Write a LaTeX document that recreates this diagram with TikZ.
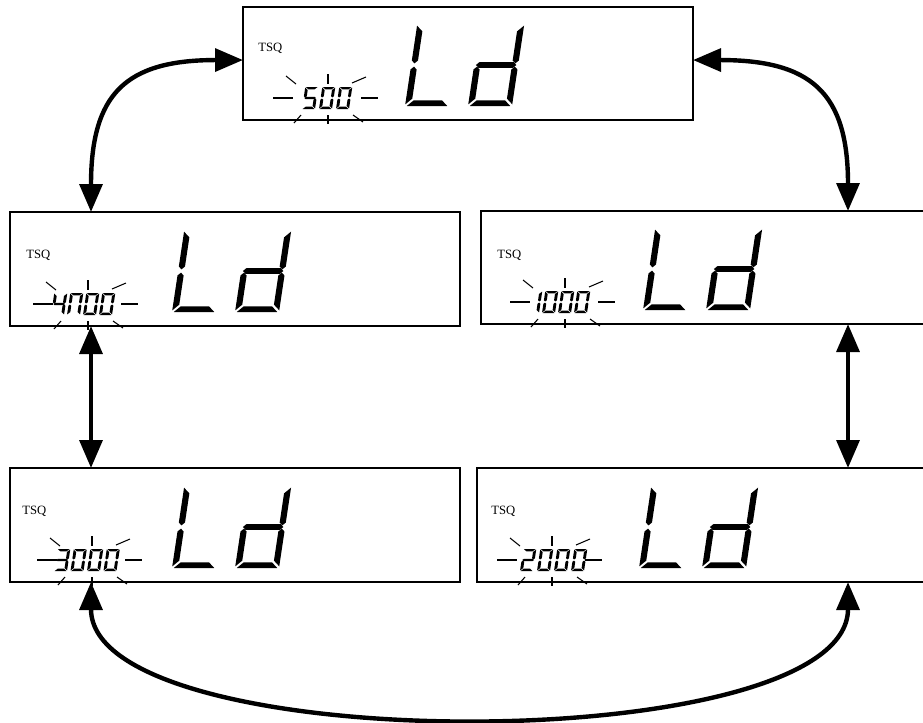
\documentclass[tikz,border=0pt]{standalone}
\usepackage{fontspec}
\setmainfont{Liberation Serif}
\usetikzlibrary{arrows.meta}

% seven-segment pieces in a unit cell 1 wide, 2 tall
\newcommand\LcdSegA{({\lcdg},2) -- ({1-\lcdg},2) -- ({1-\lcdg-\lcdt},{2-\lcdt}) -- ({\lcdg+\lcdt},{2-\lcdt}) -- cycle}
\newcommand\LcdSegD{({\lcdg},0) -- ({1-\lcdg},0) -- ({1-\lcdg-\lcdt},{\lcdt}) -- ({\lcdg+\lcdt},{\lcdt}) -- cycle}
\newcommand\LcdSegF{(0,{2-\lcdg}) -- ({\lcdt},{2-\lcdg-\lcdt}) -- ({\lcdt},{1+\lcdg+\lcdt/2}) -- ({\lcdt/2},{1+\lcdg}) -- (0,{1+\lcdg+\lcdt/2}) -- cycle}
\newcommand\LcdSegE{(0,{\lcdg}) -- ({\lcdt},{\lcdg+\lcdt}) -- ({\lcdt},{1-\lcdg-\lcdt/2}) -- ({\lcdt/2},{1-\lcdg}) -- (0,{1-\lcdg-\lcdt/2}) -- cycle}
\newcommand\LcdSegB{(1,{2-\lcdg}) -- ({1-\lcdt},{2-\lcdg-\lcdt}) -- ({1-\lcdt},{1+\lcdg+\lcdt/2}) -- ({1-\lcdt/2},{1+\lcdg}) -- (1,{1+\lcdg+\lcdt/2}) -- cycle}
\newcommand\LcdSegC{(1,{\lcdg}) -- ({1-\lcdt},{\lcdg+\lcdt}) -- ({1-\lcdt},{1-\lcdg-\lcdt/2}) -- ({1-\lcdt/2},{1-\lcdg}) -- (1,{1-\lcdg-\lcdt/2}) -- cycle}
\newcommand\LcdSegG{({\lcdg},1) -- ({\lcdg+\lcdt/2},{1+\lcdt/2}) -- ({1-\lcdg-\lcdt/2},{1+\lcdt/2}) -- ({1-\lcdg},1) -- ({1-\lcdg-\lcdt/2},{1-\lcdt/2}) -- ({\lcdg+\lcdt/2},{1-\lcdt/2}) -- cycle}

\newcommand\dZero{A,B,C,D,E,F}
\newcommand\dOne{B,C}
\newcommand\dTwo{A,B,G,E,D}
\newcommand\dThree{A,B,G,C,D}
\newcommand\dFour{F,G,B,C}
\newcommand\dFive{A,F,G,C,D}
\newcommand\dPi{A,B,C,E,F}
\newcommand\dBigL{D,E,F}
\newcommand\dBigd{B,C,D,E,G}

% small digit: bottom-left at (#1,#2) px
\newcommand\smalldigit[3]{%
  \begin{scope}[shift={(#1,#2)}]
    \begin{scope}[xslant=0.15,x=9.75pt,y=8.25pt]
      \def\lcdt{0.22}\def\lcdg{0.05}%
      \foreach \s in #3 {\expandafter\fill\csname LcdSeg\s\endcsname;}
    \end{scope}
  \end{scope}}
% big digit: bottom-left at (#1,#2) px relative
\newcommand\bigdigit[3]{%
  \begin{scope}[shift={(#1,#2)}]
    \begin{scope}[xslant=0.15,x=33pt,y=30.75pt]
      \def\lcdt{0.14}\def\lcdg{0.04}%
      \foreach \s in #3 {\expandafter\fill\csname LcdSeg\s\endcsname;}
    \end{scope}
  \end{scope}}
\newcommand\bigLd[1]{%
  \begin{scope}[shift={(#1.south west)}]
    \bigdigit{162}{-14}{\dBigL}
    \bigdigit{225}{-14}{\dBigd}
  \end{scope}}
% flash rays round a number centred at (#1,#2) px
\newcommand\flashrays[2]{%
  \begin{scope}[shift={(#1,#2)}, ray]
    \draw (-55,0) -- (-35,0);
    \draw (33,0) -- (50,0);
    \draw (0,-24) -- (0,-14);
    \draw (0,17) -- (0,26);
    \draw (-42,-22) -- (-32,-14);
    \draw (24,-15) -- (38,-21);
    \draw (-34,25) -- (-27,17);
    \draw (25,17) -- (35,24);
  \end{scope}}

\begin{document}
\begin{tikzpicture}[x=0.75pt,y=-0.75pt,
  lcd/.style={draw=black, line width=1.2pt, rectangle, minimum width=337.5pt,
    minimum height=85.5pt, inner sep=0pt, outer sep=0pt},
  tsq/.style={font=\fontsize{9.5}{11}\selectfont, inner sep=0pt, anchor=base west},
  ray/.style={line width=0.8pt},
  arr/.style={line width=3.3pt, >={Triangle[length=21pt,width=17pt]}, <->}]
\useasboundingbox (0,0) rectangle (923,722);

\node[lcd, minimum height=84.75pt] (top) at (468,63.5) {};
\node[lcd] (ml) at (235,269) {};
\node[lcd, minimum height=84.75pt] (mr) at (706,267.5) {};
\node[lcd] (bl) at (235,525) {};
\node[lcd] (br) at (702,525) {};

\node[tsq] (tsqtop) at ([shift={(15,44)}]top.north west) {TSQ};
\node[tsq] (tsqml) at ([shift={(16,46)}]ml.north west) {TSQ};
\node[tsq] (tsqmr) at ([shift={(16,47)}]mr.north west) {TSQ};
\node[tsq] (tsqbl) at ([shift={(12,46)}]bl.north west) {TSQ};
\node[tsq] (tsqbr) at ([shift={(14,46)}]br.north west) {TSQ};

\bigLd{top}
\bigLd{ml}
\bigLd{mr}
\bigLd{bl}
\bigLd{br}

% 500
\smalldigit{302}{109}{\dFive}
\smalldigit{319}{109}{\dZero}
\smalldigit{336}{109}{\dZero}
\flashrays{328}{98}
% 4700
\smalldigit{51}{315}{\dFour}
\smalldigit{67}{315}{\dPi}
\smalldigit{83}{315}{\dZero}
\smalldigit{99}{315}{\dZero}
\flashrays{88}{304}
% 1000
\smalldigit{526}{313}{\dOne}
\smalldigit{542}{313}{\dZero}
\smalldigit{558}{313}{\dZero}
\smalldigit{574}{313}{\dZero}
\flashrays{565}{302}
% 3000
\smalldigit{54}{571}{\dThree}
\smalldigit{70.5}{571}{\dZero}
\smalldigit{87}{571}{\dZero}
\smalldigit{103.5}{571}{\dZero}
\flashrays{92}{560}
% 2000
\smalldigit{520}{571}{\dTwo}
\smalldigit{537}{571}{\dZero}
\smalldigit{554}{571}{\dZero}
\smalldigit{571}{571}{\dZero}
\flashrays{552}{560}

% connectors
\draw[arr] ([yshift=2.6pt]top.west) to[out=180,in=90,looseness=1.4] ([xshift=60.75pt]ml.north west);
\draw[arr] ([yshift=2.6pt]top.east) to[out=0,in=90,looseness=1.4] ([xshift=275.25pt]mr.north west);
\draw[arr] ([xshift=60.75pt]ml.south west) -- ([xshift=60.75pt]bl.north west);
\draw[arr] ([xshift=275.25pt]mr.south west) -- ([xshift=278.25pt]br.north west);
\draw[arr] ([xshift=60.75pt]bl.south west) to[out=-90,in=-90,looseness=0.6] ([xshift=278.25pt]br.south west);
\end{tikzpicture}
\end{document}
